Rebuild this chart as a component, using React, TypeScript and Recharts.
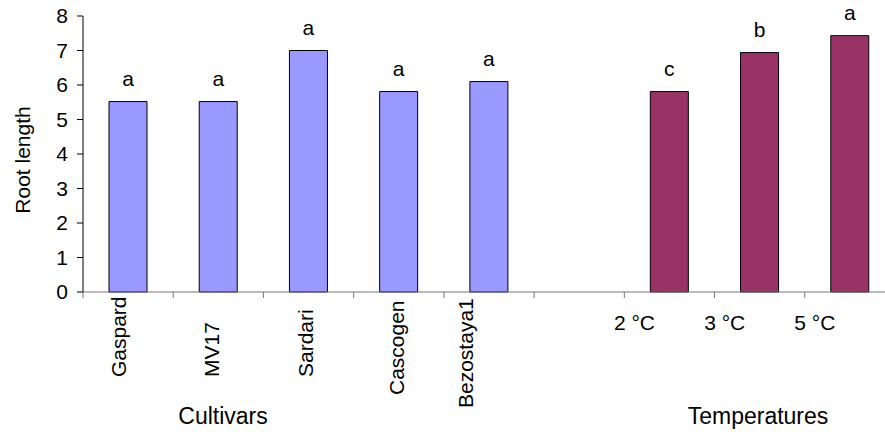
import React from 'react';
import { BarChart, Bar, XAxis, YAxis, Cell, LabelList } from 'recharts';

const cultivars = ['Gaspard', 'MV17', 'Sardari', 'Cascogen', 'Bezostaya1'];
const cultivarValues = [5.52, 5.52, 7.0, 5.81, 6.1];
const cultivarLetters = ['a', 'a', 'a', 'a', 'a'];
const temperatures = ['2 °C', '3 °C', '5 °C'];
const temperatureValues = [5.81, 6.94, 7.43];
const temperatureLetters = ['c', 'b', 'a'];
const yTicks = [0, 1, 2, 3, 4, 5, 6, 7, 8];

const data = [
  ...cultivars.map((name, i) => ({ name, group: 'cultivar', value: cultivarValues[i], letter: cultivarLetters[i] })),
  { name: '', group: 'gap', value: null as number | null, letter: undefined as string | undefined },
  ...temperatures.map((name, i) => ({ name, group: 'temp', value: temperatureValues[i], letter: temperatureLetters[i] })),
];

const FONT = '"Liberation Sans", Arial, sans-serif';
const COLORS: Record<string, string> = { cultivar: '#9999FF', temp: '#993366', gap: 'none' };

const CHART_W = 895;
const CHART_H = 432;
const Y_W = 83;
const X_H = 140;
const SLOT = (CHART_W - Y_W) / data.length;

// label nudges (style only)
const cultDx = [-2, 1, 4, 5, -16];
const cultStartY = [377, 377, 377, 395, 408];

const XTick = (props: any) => {
  const { x, y, payload } = props;
  const idx = props.index ?? payload.index ?? 0;
  const row = data[idx];
  const left = x - SLOT / 2;
  let label: React.ReactNode = null;
  if (row && row.group === 'cultivar') {
    const ci = cultivars.indexOf(row.name);
    const tx = x + cultDx[ci];
    const ty = cultStartY[ci];
    label = (
      <text x={tx} y={ty} transform={`rotate(-90, ${tx}, ${ty})`} textAnchor="start" fontSize={21} fontFamily={FONT} fill="#000">
        {row.name}
      </text>
    );
  } else if (row && row.group === 'temp') {
    label = (
      <text x={x - 35} y={330} textAnchor="middle" fontSize={21} fontFamily={FONT} fill="#000">
        {row.name}
      </text>
    );
  }
  return (
    <g>
      <line x1={left} y1={y} x2={left} y2={y + 6} stroke="#777" strokeWidth={1} />
      {label}
    </g>
  );
};

export default function App() {
  return (
    <div style={{ position: 'fixed', left: 0, top: 0, width: 885, height: 432, overflow: 'hidden', background: '#fff' }}>
      <BarChart
        width={CHART_W}
        height={CHART_H}
        data={data}
        margin={{ top: 16, right: 0, bottom: 0, left: 0 }}
      >
        <XAxis
          dataKey="name"
          height={X_H}
          interval={0}
          tickSize={0}
          tickMargin={0}
          tickLine={false}
          axisLine={{ stroke: '#777', strokeWidth: 1 }}
          tick={<XTick />}
        />
        <YAxis
          width={Y_W}
          domain={[0, 8]}
          ticks={yTicks}
          interval={0}
          tickSize={6}
          tickMargin={9}
          axisLine={{ stroke: '#000', strokeWidth: 1 }}
          tickLine={{ stroke: '#000', strokeWidth: 1 }}
          tick={{ fontSize: 21, fontFamily: FONT, fill: '#000' }}
        />
        <Bar dataKey="value" barSize={38} stroke="#000" strokeWidth={1} isAnimationActive={false}>
          {data.map((d, i) => (
            <Cell key={i} fill={COLORS[d.group]} />
          ))}
          <LabelList dataKey="letter" position="top" offset={16} fontSize={21} fontFamily={FONT} fill="#000" />
        </Bar>
      </BarChart>
      <svg width={885} height={432} style={{ position: 'absolute', left: 0, top: 0, pointerEvents: 'none' }}>
        <text x={223} y={424} textAnchor="middle" fontSize={23} fontFamily={FONT} fill="#000">Cultivars</text>
        <text x={758} y={424} textAnchor="middle" fontSize={23} fontFamily={FONT} fill="#000">Temperatures</text>
        <text x={30} y={160} transform="rotate(-90, 30, 160)" textAnchor="middle" fontSize={21} fontFamily={FONT} fill="#000">Root length</text>
      </svg>
    </div>
  );
}
